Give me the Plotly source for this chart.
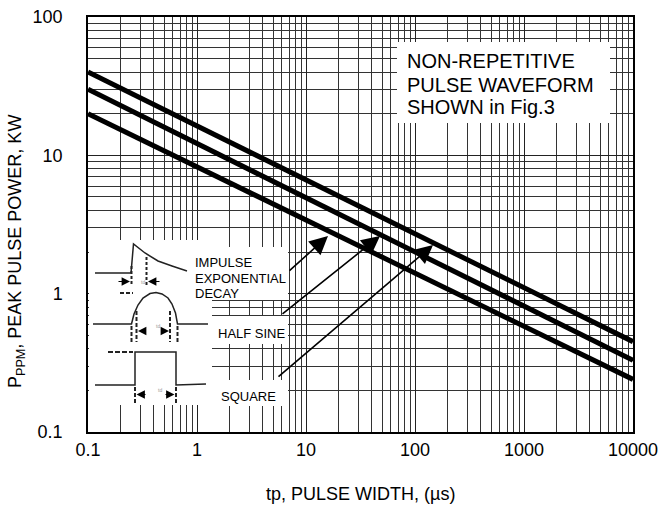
import plotly.graph_objects as go

# ---- data ----
pulse_width_us = [0.1, 10000]
square_kw = [40, 0.45]
half_sine_kw = [30, 0.33]
impulse_kw = [20, 0.24]

x_tickvals = [0.1, 1, 10, 100, 1000, 10000]
x_ticktext = ["0.1", "1", "10", "100", "1000", "10000"]
y_tickvals = [0.1, 1, 10, 100]
y_ticktext = ["0.1", "1", "10", "100"]

x_minor = [m * 10 ** e for e in range(-1, 4) for m in range(2, 10)]
y_minor = [m * 10 ** e for e in range(-1, 2) for m in range(2, 10)]

# ---- layout geometry (pixels) ----
W, H = 663, 510
L, R, T, B = 88, 30, 17, 78
PW, PH = W - L - R, H - T - B
FONT = "Liberation Sans, Arial, sans-serif"


def px(x):
    return (x - L) / PW


def py(y):
    return (H - B - y) / PH


fig = go.Figure()
for name, vals in [("SQUARE", square_kw), ("HALF SINE", half_sine_kw), ("IMPULSE", impulse_kw)]:
    fig.add_trace(go.Scatter(x=pulse_width_us, y=vals, mode="lines", name=name,
                             line=dict(color="black", width=5), showlegend=False,
                             hoverinfo="skip"))

shapes = []


def rect(x0, y0, x1, y1):
    shapes.append(dict(type="rect", xref="paper", yref="paper", x0=px(x0), x1=px(x1),
                       y0=py(y1), y1=py(y0), fillcolor="white", line=dict(width=0),
                       layer="above"))


def path(pts, width=1.5, dash="solid", color="#222"):
    d = "M" + " L".join(f"{px(a):.5f},{py(b):.5f}" for a, b in pts)
    shapes.append(dict(type="path", xref="paper", yref="paper", path=d,
                       line=dict(color=color, width=width, dash=dash), layer="above"))


# white boxes behind texts / insets
rect(397, 42, 610, 123)
rect(89, 240, 212, 405)
rect(187, 247, 288, 300)
rect(212, 316, 288, 344)
rect(212, 380, 288, 406)

# impulse exponential decay waveform
path([(95, 273), (131, 273), (133.5, 244), (145, 253), (158, 261), (172, 266), (187, 271)])
path([(131.5, 266), (131.5, 286)], width=2, dash="3px,2px")
path([(146.5, 257), (146.5, 286)], width=2, dash="3px,2px")
# half sine
path([(120, 293), (133, 293)], width=2, dash="4px,2px")
path([(93, 324), (131.5, 324), (134, 314), (138, 305), (143, 298), (150, 293.5), (156, 292.5),
      (162, 294), (168, 298), (172, 304), (175.5, 313), (177.5, 324), (208, 324)])
path([(136.5, 311), (136.5, 342)], width=2, dash="4px,2px")
path([(170, 311), (170, 342)], width=2, dash="4px,2px")
path([(131.5, 326), (131.5, 342)], width=2, dash="4px,2px")
path([(177.5, 326), (177.5, 342)], width=2, dash="4px,2px")
# square
path([(108, 352), (133, 352)], width=2, dash="5px,2px")
path([(95, 385), (135, 385), (135, 352), (176, 352), (176, 385), (206, 384)])
path([(135, 387), (135, 405)], width=2, dash="4px,2px")
path([(176, 387), (176, 405)], width=2, dash="4px,2px")

annotations = []


def text(x, y, s, size, anchor="left"):
    annotations.append(dict(xref="paper", yref="paper", x=px(x), y=py(y), text=s,
                            showarrow=False, xanchor=anchor, yanchor="middle",
                            font=dict(family=FONT, size=size, color="black")))


def arrow(hx, hy, tx, ty, width=1.6, size=2.3, head=2):
    annotations.append(dict(xref="paper", yref="paper", x=px(hx), y=py(hy), text=" ",
                            showarrow=True, ax=tx - hx, ay=ty - hy, axref="pixel",
                            ayref="pixel", arrowhead=head, arrowsize=size,
                            arrowwidth=width, arrowcolor="black", standoff=0,
                            startstandoff=0, font=dict(size=1)))


text(405, 60.5, "NON-REPETITIVE", 20)
text(405, 84.5, "PULSE WAVEFORM", 20)
text(405, 107.5, "SHOWN in Fig.3", 20)

text(193, 262, "IMPULSE", 13)
text(193, 278, "EXPONENTIAL", 13)
text(193, 293.5, "DECAY", 13)
text(216, 333, "HALF SINE", 13)
text(219, 396, "SQUARE", 13)

arrow(328, 236, 288, 272)
arrow(380, 236, 281, 315)
arrow(433, 245, 277, 378)

# small pulse-width arrows inside insets
arrow(130, 281.5, 117, 281.5, width=1.2, size=1.4)
arrow(148, 281.5, 161, 281.5, width=1.2, size=1.4)
arrow(138, 331, 147, 331, width=1.2, size=1.4)
arrow(169, 331, 160, 331, width=1.2, size=1.4)
arrow(136.5, 394.5, 147, 394.5, width=1.2, size=1.4)
arrow(174.5, 394.5, 164, 394.5, width=1.2, size=1.4)
for (x, y) in [(139, 281.5), (153.5, 331), (155.5, 394.5)]:
    annotations.append(dict(xref="paper", yref="paper", x=px(x), y=py(y), text="td",
                            showarrow=False, font=dict(family=FONT, size=5, color="#999")))

# axis titles
annotations.append(dict(xref="paper", yref="paper", x=px(360), y=py(494), text="tp, PULSE WIDTH, (µs)",
                        showarrow=False, xanchor="center", yanchor="middle",
                        font=dict(family=FONT, size=18, color="black")))
annotations.append(dict(xref="paper", yref="paper", x=px(17), y=py(252),
                        text="P<sub>PPM</sub>, PEAK PULSE POWER, KW", textangle=-90,
                        showarrow=False, xanchor="center", yanchor="middle",
                        font=dict(family=FONT, size=18, color="black")))

axis_common = dict(type="log", showgrid=True, gridcolor="#222", gridwidth=1,
                   showline=True, mirror=True, linecolor="black", linewidth=1.5,
                   zeroline=False, tickfont=dict(family=FONT, size=18, color="black"))

fig.update_xaxes(range=[-1, 4], tickmode="array", tickvals=x_tickvals, ticktext=x_ticktext,
                 minor=dict(tickvals=x_minor, showgrid=True, gridcolor="#333", gridwidth=1, ticks=""),
                 ticks="", ticklabelstandoff=1, **axis_common)
fig.update_yaxes(range=[-1, 2], tickmode="array", tickvals=y_tickvals, ticktext=y_ticktext,
                 minor=dict(tickvals=y_minor, showgrid=True, gridcolor="#333", gridwidth=1, ticks=""),
                 ticks="outside", ticklen=20, tickcolor="rgba(0,0,0,0)", **axis_common)

fig.update_layout(width=W, height=H, margin=dict(l=L, r=R, t=T, b=B, autoexpand=False),
                  plot_bgcolor="white", paper_bgcolor="white",
                  shapes=shapes, annotations=annotations,
                  font=dict(family=FONT, color="black"))

fig.write_html("out.html", config={"displayModeBar": False},
               post_script="document.body.style.margin='0';document.body.style.overflow='hidden';")
